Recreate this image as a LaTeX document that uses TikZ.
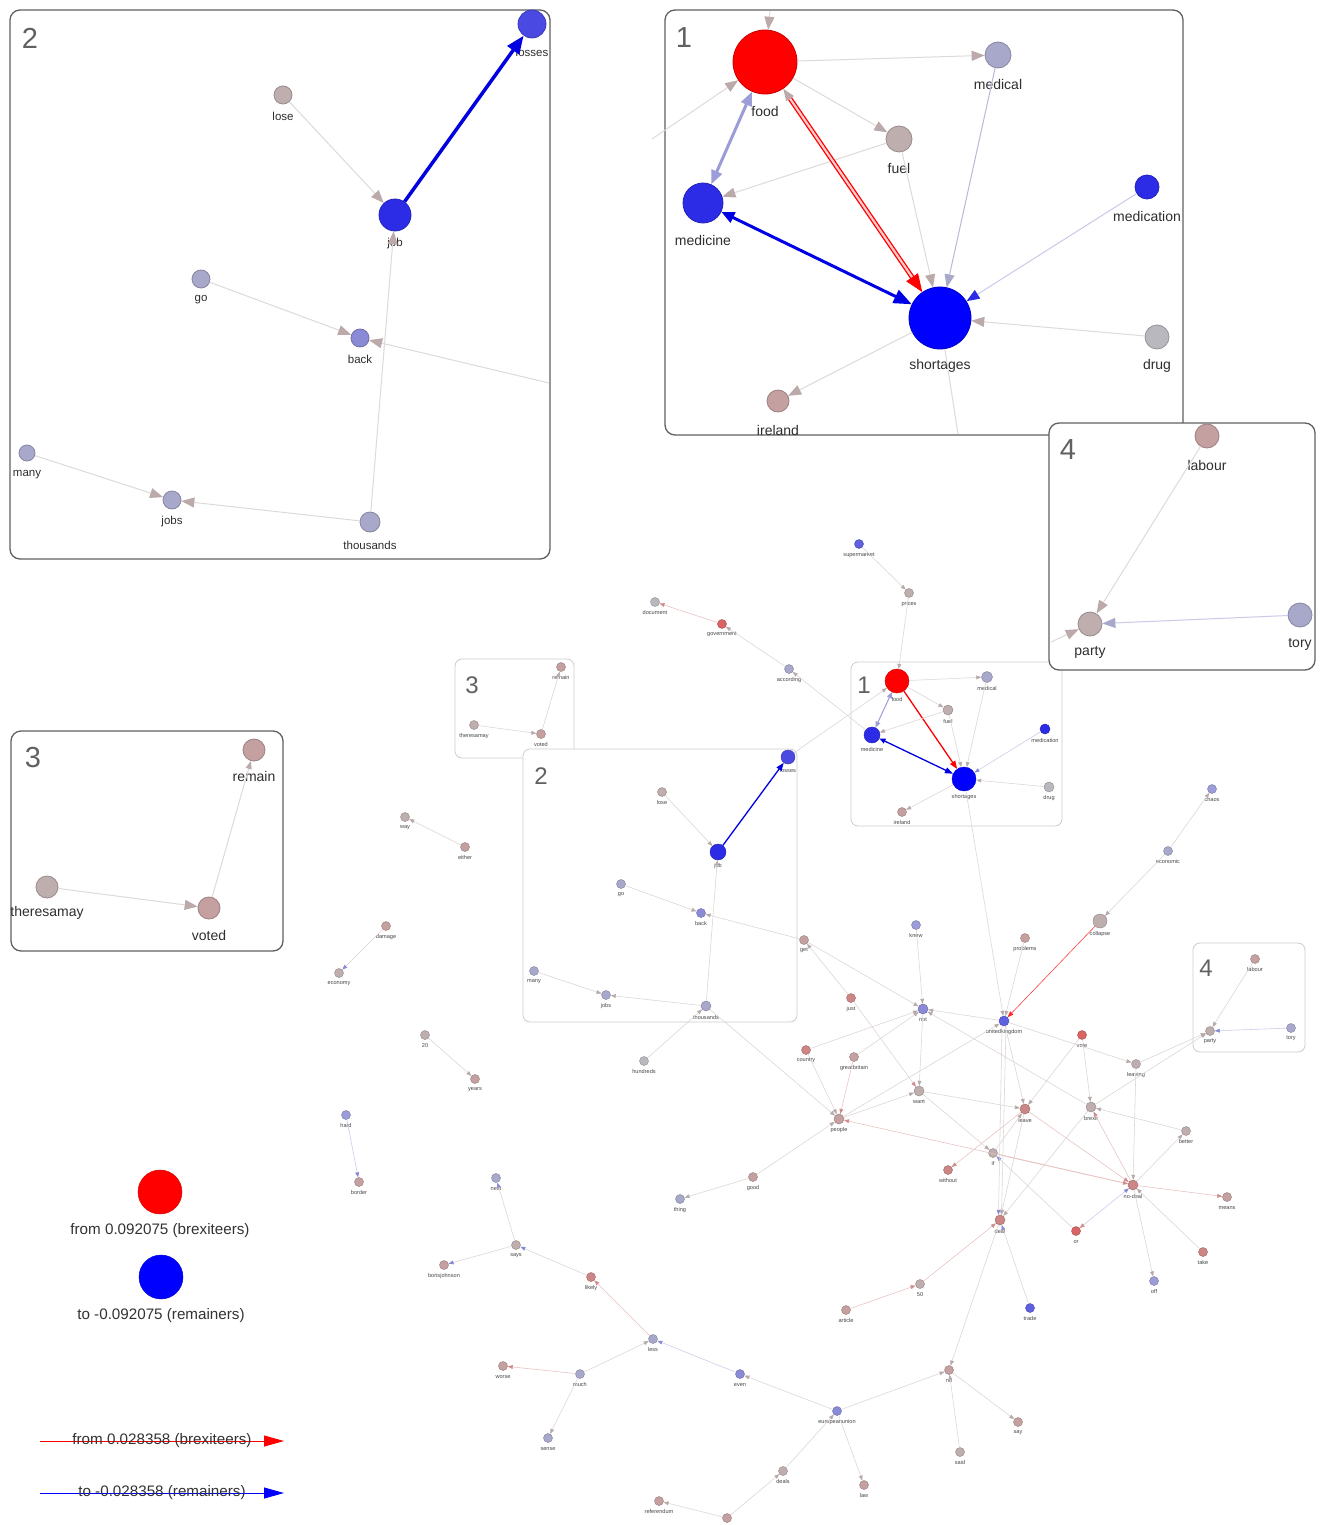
\documentclass[tikz,border=0pt]{standalone}
\usepackage{fontspec}
\setmainfont{Liberation Sans}
\usetikzlibrary{arrows.meta,calc}
\definecolor{ecol}{HTML}{DCD4D4}
\definecolor{acol}{HTML}{B8AAAA}
\definecolor{ecolr}{HTML}{E8C0C0}
\definecolor{acolr}{HTML}{D08C8C}
\definecolor{ecolb}{HTML}{CACAEA}
\definecolor{acolb}{HTML}{8888D8}
\definecolor{becol}{HTML}{E0D9D9}
\definecolor{bacol}{HTML}{BCAAAA}
\definecolor{cR}{HTML}{D86464}
\definecolor{cRp}{HTML}{CC8686}
\definecolor{cRg}{HTML}{C4A0A0}
\definecolor{cG}{HTML}{BEAEAE}
\definecolor{cN}{HTML}{B8B8BE}
\definecolor{cB}{HTML}{A8A8CA}
\definecolor{cB2}{HTML}{9C9CD8}
\definecolor{cBm}{HTML}{8A8AD6}
\definecolor{cBs}{HTML}{6060E0}
\definecolor{cBb}{HTML}{2C2CE6}
\definecolor{cBl}{HTML}{4A4AE2}
\definecolor{boxc}{HTML}{606060}
\definecolor{sboxc}{HTML}{CCCCCC}
\tikzset{
  gn/.style={circle,inner sep=0pt,line width=0.45pt},
  sl/.style={font=\fontsize{5.6}{6}\selectfont,text=black!72,inner sep=0pt},
  blA/.style={font=\fontsize{14}{16}\selectfont,text=black!82,inner sep=0pt},
  blB/.style={font=\fontsize{11.5}{13}\selectfont,text=black!82,inner sep=0pt},
  se/.style={draw=ecol,line width=0.55pt,-{Triangle[length=5pt,width=3.8pt,color=acol]}},
  ser/.style={draw=ecolr,line width=0.55pt,-{Triangle[length=5pt,width=3.8pt,color=acolr]}},
  seb/.style={draw=ecolb,line width=0.55pt,-{Triangle[length=5pt,width=3.8pt,color=acolb]}},
  sgb/.style={draw=ecol,line width=0.55pt,-{Triangle[length=5pt,width=3.8pt,color=acolb]}},
  sgr/.style={draw=ecol,line width=0.55pt,-{Triangle[length=5pt,width=3.8pt,color=acolr]}},
  be/.style={draw=becol,line width=1pt,-{Triangle[length=13pt,width=10pt,color=bacol]}},
  bbox/.style={draw=boxc,line width=1.3pt,rounded corners=10pt,fill=white},
  sbox/.style={draw=sboxc,line width=0.8pt,rounded corners=7pt},
  bnum/.style={font=\fontsize{29}{30}\selectfont,text=black!62,inner sep=0pt},
  snum/.style={font=\fontsize{24}{26}\selectfont,text=black!62,inner sep=0pt},
  legt/.style={font=\fontsize{15.2}{17}\selectfont,text=black!80,inner sep=0pt},
}
% small node: [diameter]{name}{x}{y}{colour}{label}
\newcommand\sn[6][9]{\node[gn,fill=#5,draw=#5!80!black,minimum size=#1pt] (#2) at (#3,#4) {};\node[sl] (#2-t) at (#3,#4+#1/2+6.2) {#6};}
% big node: [diameter]{name}{x}{y}{colour}{label}{dy}{labelstyle}
\newcommand\bn[8][24]{\node[gn,fill=#5,draw=#5!80!black,minimum size=#1pt,line width=0.8pt] (#2) at (#3,#4) {};\node[#8] (#2-t) at (#3,#4+#7) {#6};}
\begin{document}
\begin{tikzpicture}[x=1pt,y=-1pt]
\useasboundingbox[fill=white] (0,0) rectangle (1321,1525);

% ---------- small boxes ----------
\draw[sbox] (455,659) rectangle (574,758);
\draw[sbox,fill=white] (523,749) rectangle (797,1022);
\draw[sbox] (851,662) rectangle (1062,826);
\draw[sbox] (1193,943) rectangle (1305,1052);
\node[snum] (s3n) at (472,685) {3};
\node[snum] (s2n) at (541,776) {2};
\node[snum] (s1n) at (864,685) {1};
\node[snum] (s4n) at (1206,968) {4};

% ---------- small graph nodes ----------
\sn{supermarket}{859}{544}{cBs}{supermarket}
\sn{prices}{909}{593}{cG}{prices}
\sn{document}{655}{602}{cN}{document}
\sn{government}{722}{624}{cR}{government}
\sn{according}{789}{669}{cB}{according}
\sn[24]{food}{897}{681}{red}{food}
\sn[11]{medical}{987}{677}{cB}{medical}
\sn[10]{fuel}{948}{710}{cG}{fuel}
\sn[16]{medicine}{872}{735}{cBb}{medicine}
\sn[10]{medication}{1045}{729}{cBb}{medication}
\sn[24]{shortages}{964}{779}{blue}{shortages}
\sn[10]{drug}{1049}{787}{cN}{drug}
\sn{ireland}{902}{812}{cRg}{ireland}
\sn{remain}{561}{667}{cRg}{remain}
\sn{theresamay}{474}{725}{cG}{theresamay}
\sn{voted}{541}{734}{cRg}{voted}
\sn[14]{losses}{788}{757}{cBl}{losses}
\sn{lose}{662}{792}{cG}{lose}
\sn[16]{job}{718}{852}{cBb}{job}
\sn{go}{621}{884}{cB}{go}
\sn{back}{701}{913}{cBm}{back}
\sn{many}{534}{971}{cB}{many}
\sn{jobs}{606}{995}{cB}{jobs}
\sn[10]{thousands}{706}{1006}{cB}{thousands}
\sn{chaos}{1212}{789}{cB2}{chaos}
\sn{economic}{1168}{851}{cB}{economic}
\sn[14]{collapse}{1100}{921}{cG}{collapse}
\sn{way}{405}{817}{cG}{way}
\sn{either}{465}{847}{cRg}{either}
\sn{damage}{386}{926}{cRg}{damage}
\sn{economy}{339}{973}{cG}{economy}
\sn{n20}{425}{1035}{cG}{20}
\sn{years}{475}{1079}{cRg}{years}
\sn{hard}{346}{1115}{cB2}{hard}
\sn{border}{359}{1182}{cRg}{border}
\sn{knew}{916}{925}{cB2}{knew}
\sn{problems}{1025}{938}{cRg}{problems}
\sn{get}{804}{940}{cRg}{get}
\sn{just}{851}{998}{cRp}{just}
\sn[10]{not}{923}{1009}{cBm}{not}
\sn[10]{unitedkingdom}{1004}{1021}{cBs}{unitedkingdom}
\sn{vote}{1082}{1035}{cR}{vote}
\sn{country}{806}{1050}{cRp}{country}
\sn{greatbritain}{854}{1057}{cRg}{greatbritain}
\sn{hundreds}{644}{1061}{cN}{hundreds}
\sn[10]{want}{919}{1091}{cG}{want}
\sn{leaving}{1136}{1064}{cG}{leaving}
\sn[10]{leave}{1025}{1109}{cRp}{leave}
\sn[10]{brexit}{1091}{1107}{cG}{brexit}
\sn[10]{people}{839}{1119}{cRg}{people}
\sn{better}{1186}{1131}{cG}{better}
\sn{if}{993}{1153}{cG}{if}
\sn{without}{948}{1170}{cRp}{without}
\sn{good}{753}{1177}{cRg}{good}
\sn[10]{nodeal}{1133}{1185}{cRp}{no-deal}
\sn{means}{1227}{1197}{cRg}{means}
\sn{thing}{680}{1199}{cB}{thing}
\sn[10]{deal}{1000}{1220}{cRp}{deal}
\sn{or}{1076}{1231}{cR}{or}
\sn{take}{1203}{1252}{cRp}{take}
\sn{off}{1154}{1281}{cB2}{off}
\sn{next}{496}{1178}{cB}{next}
\sn{says}{516}{1245}{cG}{says}
\sn{borisjohnson}{444}{1265}{cRg}{borisjohnson}
\sn{likely}{591}{1277}{cRp}{likely}
\sn{n50}{920}{1284}{cG}{50}
\sn{trade}{1030}{1308}{cBs}{trade}
\sn{article}{846}{1310}{cRg}{article}
\sn{less}{653}{1339}{cB}{less}
\sn{worse}{503}{1366}{cRg}{worse}
\sn{much}{580}{1374}{cB}{much}
\sn{even}{740}{1374}{cBm}{even}
\sn{no}{949}{1370}{cRg}{no}
\sn{europeanunion}{837}{1411}{cBm}{europeanunion}
\sn{say}{1018}{1422}{cRg}{say}
\sn{sense}{548}{1438}{cB}{sense}
\sn{said}{960}{1452}{cG}{said}
\sn{deals}{783}{1471}{cG}{deals}
\sn{law}{864}{1485}{cRg}{law}
\sn{referendum}{659}{1501}{cRg}{referendum}
\node[gn,fill=cRg,draw=cRg!80!black,minimum size=9pt] (unl) at (727,1518) {};
\sn{labour}{1255}{959}{cRg}{labour}
\sn{party}{1210}{1031}{cG}{party}
\sn{tory}{1291}{1028}{cB}{tory}

% ---------- small graph edges ----------
\draw[se] (supermarket) -- (prices);
\draw[se] (prices) -- (food);
\draw[ser] (government) -- (document);
\draw[se] (according) -- (government);
\draw[se] (medicine) -- (according);
\draw[se] (losses) -- (food);
\draw[se] (food) -- (medical);
\draw[se] (food) -- (fuel);
\draw[draw=cB2,line width=1pt,{Triangle[length=6pt,width=5pt,color=cB2]}-{Triangle[length=6pt,width=5pt,color=cB2]}] (food) -- (medicine);
\draw[red,line width=1.3pt,-{Triangle[length=8pt,width=6pt]}] (food) -- (shortages);
\draw[blue!90!black,line width=1.3pt,{Triangle[length=6pt,width=5pt]}-{Triangle[length=8pt,width=6pt]}] (medicine) -- (shortages);
\draw[se] (fuel) -- (medicine);
\draw[se] (fuel) -- (shortages);
\draw[se] (medical) -- (shortages);
\draw[seb] (medication) -- (shortages);
\draw[se] (drug) -- (shortages);
\draw[se] (shortages) -- (ireland);
\draw[se] (shortages) -- (unitedkingdom);
\draw[se] (economic) -- (chaos);
\draw[se] (economic) -- (collapse);
\draw[draw=red!75,line width=0.6pt,-{Triangle[length=6pt,width=4.5pt,color=red!85]}] (collapse) -- (unitedkingdom);
\draw[se] (either) -- (way);
\draw[sgb] (damage) -- (economy);
\draw[se] (n20) -- (years);
\draw[seb] (hard) -- (border);
\draw[se] (theresamay) -- (voted);
\draw[se] (voted) -- (remain);
\draw[blue!90!black,line width=1.3pt,-{Triangle[length=8pt,width=6pt]}] (job) -- (losses);
\draw[se] (lose) -- (job);
\draw[se] (go) -- (back);
\draw[se] (get) -- (back);
\draw[se] (thousands) -- (job);
\draw[se] (many) -- (jobs);
\draw[se] (thousands) -- (jobs);
\draw[se] (hundreds) -- (thousands);
\draw[se] (thousands) -- (people);
\draw[se] (just) -- (get);
\draw[sgr] (just) -- (want);
\draw[se] (get) -- (not);
\draw[se] (knew) -- (not);
\draw[se] (country) -- (not);
\draw[se] (greatbritain) -- (not);
\draw[se] (brexit) -- (not);
\draw[se] (unitedkingdom) -- (not);
\draw[se] (not) -- (want);
\draw[se] (people) -- (want);
\draw[se] (people) -- (unitedkingdom);
\draw[se] (country) -- (people);
\draw[ser] (greatbritain) -- (people);
\draw[se] (good) -- (people);
\draw[se] (good) -- (thing);
\draw[ser] (nodeal) -- (people);
\draw[ser] (if) -- (nodeal);
\draw[se] (want) -- (leave);
\draw[se] (want) -- (if);
\draw[sgb] (or) -- (if);
\draw[se] (problems) -- (unitedkingdom);
\draw[se] (unitedkingdom) -- (leave);
\draw[sgb] ([xshift=-2pt]unitedkingdom.south) -- ([xshift=-1.5pt]deal.north);
\draw[se] ([xshift=2pt]unitedkingdom.south) -- ([xshift=1.5pt]deal.north);
\draw[se] (unitedkingdom) -- (leaving);
\draw[se] (vote) -- (leave);
\draw[se] (vote) -- (brexit);
\draw[se] (leaving) -- (party);
\draw[se] (brexit) -- (party);
\draw[se] (labour) -- (party);
\draw[seb] (tory) -- (party);
\draw[se] (leaving) -- (nodeal);
\draw[se] (better) -- (brexit);
\draw[se] (nodeal) -- (better);
\draw[ser] (nodeal) -- (brexit);
\draw[se] (brexit) -- (deal);
\draw[ser] (leave) -- (without);
\draw[se] (leave) -- (deal);
\draw[ser] (leave) -- (nodeal);
\draw[se] (if) -- (leave);
\draw[ser] (n50) -- (deal);
\draw[ser] (article) -- (n50);
\draw[sgb] (trade) -- (deal);
\draw[se] (deal) -- (no);
\draw[draw=ecolb,line width=0.55pt,{Triangle[length=5pt,width=3.8pt,color=acolb]}-{Triangle[length=5pt,width=3.8pt,color=acolr]}] (nodeal) -- (or);
\draw[ser] (nodeal) -- (means);
\draw[se] (take) -- (nodeal);
\draw[se] (nodeal) -- (off);
\draw[sgb] (says) -- (next);
\draw[sgb] (says) -- (borisjohnson);
\draw[sgb] (likely) -- (says);
\draw[ser] (less) -- (likely);
\draw[se] (much) -- (less);
\draw[seb] (even) -- (less);
\draw[ser] (much) -- (worse);
\draw[se] (much) -- (sense);
\draw[se] (europeanunion) -- (even);
\draw[se] (europeanunion) -- (no);
\draw[se] (europeanunion) -- (law);
\draw[se] (deals) -- (europeanunion);
\draw[se] (unl) -- (deals);
\draw[se] (unl) -- (referendum);
\draw[se] (no) -- (say);
\draw[se] (said) -- (no);

% ---------- big box 1 ----------
\draw[bbox] (665,10) rectangle (1183,435);
\node[bnum] (b1n) at (684,38) {1};
\coordinate (B1top) at (770,11);
\coordinate (B1left) at (652,139);
\coordinate (B1bot) at (958,434);
\bn[64]{Bfood}{765}{62}{red}{food}{49}{blA}
\bn[26]{Bmedical}{998}{55}{cB}{medical}{29}{blA}
\bn[26]{Bfuel}{899}{139}{cG}{fuel}{29}{blA}
\bn[40]{Bmedicine}{703}{203}{cBb}{medicine}{37}{blA}
\bn[24]{Bmedication}{1147}{187}{cBb}{medication}{29}{blA}
\bn[62]{Bshort}{940}{318}{blue}{shortages}{48}{blA}
\bn[24]{Bdrug}{1157}{337}{cN}{drug}{29}{blA}
\bn[22]{Bireland}{778}{401}{cRg}{ireland}{29}{blA}
\draw[be] (B1top) -- (Bfood);
\draw[be] (B1left) -- (Bfood);
\draw[be,-] (Bshort) -- (B1bot);
\draw[be] (Bfood) -- (Bmedical);
\draw[be] (Bfood) -- (Bfuel);
\draw[be] (Bfuel) -- (Bmedicine);
\draw[be] (Bfuel) -- (Bshort);
\draw[be,draw=cB!80,-{Triangle[length=13pt,width=10pt,color=cB]}] (Bmedical) -- (Bshort);
\draw[be,draw=ecolb,-{Triangle[length=13pt,width=10pt,color=cBb]}] (Bmedication) -- (Bshort);
\draw[be] (Bdrug) -- (Bshort);
\draw[be] (Bshort) -- (Bireland);
\draw[draw=cB2,line width=3pt,{Triangle[length=14pt,width=11pt,color=cB2]}-{Triangle[length=14pt,width=11pt,color=cB2]}] (Bfood) -- (Bmedicine);
\draw[blue!90!black,line width=3pt,{Triangle[length=13pt,width=11pt]}-{Triangle[length=18pt,width=14pt]}] (Bmedicine) -- (Bshort);
\draw[red,line width=1.3pt,double=red!20,double distance=2.2pt,shorten >=16pt,shorten <=10pt] (Bfood) -- (Bshort);
\draw[red,line width=1pt,-{Triangle[length=18pt,width=14pt]}] ($(Bshort)!40pt!(Bfood)$) -- (Bshort);
\draw[red,line width=1pt,-{Triangle[length=12pt,width=9pt,color=bacol]}] ($(Bfood)!40pt!(Bshort)$) -- (Bfood);

% ---------- big box 4 ----------
\draw[bbox] (1049,423) rectangle (1315,670);
\node[bnum] (b4n) at (1068,450) {4};
\coordinate (B4left) at (1051,642);
\bn[24]{Blabour}{1207}{436}{cRg}{labour}{29}{blA}
\bn[24]{Bparty}{1090}{624}{cG}{party}{28}{blA}
\bn[24]{Btory}{1300}{615}{cB}{tory}{29}{blA}
\draw[be] (Blabour) -- (Bparty);
\draw[be,draw=ecolb,-{Triangle[length=13pt,width=10pt,color=cB]}] (Btory) -- (Bparty);
\draw[be] (B4left) -- (Bparty);

% ---------- big box 2 ----------
\draw[bbox] (10,10) rectangle (550,559);
\node[bnum] (b2n) at (30,38) {2};
\coordinate (B2right) at (549,383);
\bn[28]{Blosses}{532}{24}{cBl}{losses}{28}{blB}
\bn[18]{Blose}{283}{95}{cG}{lose}{21}{blB}
\bn[32]{Bjob}{395}{215}{cBb}{job}{29}{blB}
\bn[18]{Bgo}{201}{279}{cB}{go}{21}{blB}
\bn[18]{Bback}{360}{338}{cBm}{back}{21}{blB}
\bn[16]{Bmany}{27}{453}{cB}{many}{22}{blB}
\bn[18]{Bjobs}{172}{500}{cB}{jobs}{22}{blB}
\bn[20]{Bthousands}{370}{522}{cB}{thousands}{23}{blB}
\draw[be] (Blose) -- (Bjob);
\draw[be] (Bgo) -- (Bback);
\draw[be] (B2right) -- (Bback);
\draw[be] (Bthousands) -- (Bjob);
\draw[be] (Bmany) -- (Bjobs);
\draw[be] (Bthousands) -- (Bjobs);
\draw[blue!88!black,line width=3.5pt,-{Triangle[length=18pt,width=14pt]}] (Bjob) -- (Blosses);

% ---------- big box 3 ----------
\draw[bbox] (11,731) rectangle (283,951);
\node[bnum] (b3n) at (33,758) {3};
\bn[22]{Bremain}{254}{750}{cRg}{remain}{26}{blA}
\bn[22]{Btheresa}{47}{887}{cG}{theresamay}{26}{blA}
\bn[22]{Bvoted}{209}{908}{cRg}{voted}{27}{blA}
\draw[be] (Btheresa) -- (Bvoted);
\draw[be,-{Triangle[length=8pt,width=6pt,color=bacol]}] (Bvoted) -- (Bremain);

% ---------- legend ----------
\node[gn,fill=red,draw=red!85!black,minimum size=44pt] (legR) at (160,1192) {};
\node[legt] (legRt) at (160,1231) {from 0.092075 (brexiteers)};
\node[gn,fill=blue,draw=blue!85!black,minimum size=44pt] (legB) at (161,1277) {};
\node[legt] (legBt) at (161,1316) {to -0.092075 (remainers)};
\coordinate (lr1) at (40,1441);
\coordinate (lr2) at (284,1441);
\draw[red,line width=0.9pt,-{Triangle[length=20pt,width=11pt]}] (lr1) -- (lr2);
\node[legt] (lrt) at (162,1441) {from 0.028358 (brexiteers)};
\coordinate (lb1) at (40,1493);
\coordinate (lb2) at (284,1493);
\draw[blue,line width=0.9pt,-{Triangle[length=20pt,width=11pt]}] (lb1) -- (lb2);
\node[legt] (lbt) at (162,1493) {to -0.028358 (remainers)};
\end{tikzpicture}
\end{document}
